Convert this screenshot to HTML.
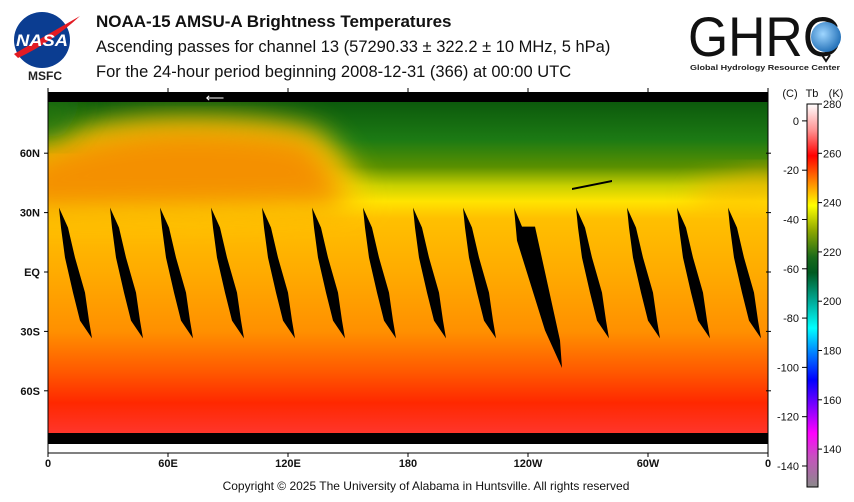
<!DOCTYPE html>
<html><head><meta charset="utf-8"><style>
body{margin:0;background:#fff;width:854px;height:502px;overflow:hidden;font-family:"Liberation Sans",sans-serif}
svg{display:block}
</style></head><body>
<svg id="chart" width="854" height="502" xmlns="http://www.w3.org/2000/svg">
<defs>
 <linearGradient id="base" x1="0" y1="102" x2="0" y2="444" gradientUnits="userSpaceOnUse">
  <stop offset="0" stop-color="#0c5a0c"/>
  <stop offset="0.11" stop-color="#1c7a14"/>
  <stop offset="0.19" stop-color="#5a9000"/>
  <stop offset="0.245" stop-color="#c8d000"/>
  <stop offset="0.29" stop-color="#ffe400"/>
  <stop offset="0.34" stop-color="#ffc000"/>
  <stop offset="0.5" stop-color="#ffab00"/>
  <stop offset="0.67" stop-color="#ff9000"/>
  <stop offset="0.79" stop-color="#ff5800"/>
  <stop offset="0.88" stop-color="#ff2800"/>
  <stop offset="1" stop-color="#ff3a3a"/>
 </linearGradient>
 <linearGradient id="cbar" x1="0" y1="104" x2="0" y2="487" gradientUnits="userSpaceOnUse">
  <stop offset="0" stop-color="#ffffff"/>
  <stop offset="0.07" stop-color="#ff9090"/>
  <stop offset="0.135" stop-color="#ff0000"/>
  <stop offset="0.2" stop-color="#ff8000"/>
  <stop offset="0.265" stop-color="#ffff00"/>
  <stop offset="0.33" stop-color="#90a800"/>
  <stop offset="0.4" stop-color="#1a6a1a"/>
  <stop offset="0.44" stop-color="#005a20"/>
  <stop offset="0.52" stop-color="#00b0a0"/>
  <stop offset="0.585" stop-color="#00ffff"/>
  <stop offset="0.65" stop-color="#0080ff"/>
  <stop offset="0.72" stop-color="#0000ff"/>
  <stop offset="0.79" stop-color="#8000ff"/>
  <stop offset="0.86" stop-color="#ff00ff"/>
  <stop offset="0.92" stop-color="#c850c0"/>
  <stop offset="1" stop-color="#8a8a8a"/>
 </linearGradient>
 <filter id="blur" x="-30%" y="-30%" width="160%" height="160%"><feGaussianBlur stdDeviation="14"/></filter>
 <clipPath id="mapclip"><rect x="48" y="102" width="720" height="331"/></clipPath>
 <radialGradient id="globe" cx="0.4" cy="0.4" r="0.7"><stop offset="0" stop-color="#9fd6ff"/><stop offset="1" stop-color="#1565b0"/></radialGradient>
</defs>

<g>
 <circle cx="42" cy="40" r="28" fill="#0b3d91"/>
 <path d="M14 54 Q45 36 80 16 Q52 42 18 58Z" fill="#e21b23"/>
 <text x="42" y="46" font-size="17" font-weight="bold" fill="#fff" text-anchor="middle" font-style="italic" textLength="52" lengthAdjust="spacingAndGlyphs">NASA</text>
 <text x="45" y="80" font-size="12" font-weight="bold" fill="#222" text-anchor="middle">MSFC</text>
</g>
<text x="96" y="27" font-size="17" font-weight="bold" fill="#111">NOAA-15 AMSU-A Brightness Temperatures</text>
<text x="96" y="52" font-size="16.5" fill="#111">Ascending passes for channel 13 (57290.33 ± 322.2 ± 10 MHz, 5 hPa)</text>
<text x="96" y="77" font-size="16.5" fill="#111">For the 24-hour period beginning 2008-12-31 (366) at 00:00 UTC</text>
<g>
 <text x="688" y="56" font-size="56" fill="#111" textLength="152" lengthAdjust="spacingAndGlyphs">GHRC</text>
 <circle cx="826" cy="37" r="15" fill="url(#globe)"/>
 <path d="M822 55 L826 61 L830 55" fill="none" stroke="#111" stroke-width="2"/>
 <text x="690" y="70" font-size="7.5" font-weight="bold" fill="#222" textLength="150" lengthAdjust="spacingAndGlyphs">Global Hydrology Resource Center</text>
</g>

<rect x="48" y="92" width="720" height="10" fill="#000"/>
<rect x="48" y="433" width="720" height="11" fill="#000"/>
<text x="215" y="102" font-size="13" fill="#fff" text-anchor="middle">⟵</text>
<g clip-path="url(#mapclip)">
 <rect x="48" y="102" width="720" height="331" fill="url(#base)"/>
 <path d="M20 215 L20 150 Q80 120 170 118 Q270 116 320 132 Q350 160 370 205 L200 215Z" fill="#ffd400" filter="url(#blur)" opacity="0.9"/>
 <path d="M20 210 L20 165 Q90 132 180 130 Q270 130 310 142 Q335 170 345 205Z" fill="#f49000" filter="url(#blur)"/>
 <path d="M20 130 L20 95 L90 95 L60 140Z" fill="#2a7a10" filter="url(#blur)" opacity="0.7"/>
 <path d="M690 190 L780 170 L780 200 L700 205Z" fill="#ffb000" filter="url(#blur)" opacity="0.8"/>
 <path d="M572 188 L612 180 L612 182 L572 190Z" fill="#000"/>
 <g id="swaths"></g>
</g>
<g id="axes"></g>

<rect x="807" y="104" width="11" height="383" fill="url(#cbar)" stroke="#000" stroke-width="1"/>
<text x="790" y="97" font-size="11" fill="#111" text-anchor="middle">(C)</text>
<text x="812" y="97" font-size="11" fill="#111" text-anchor="middle">Tb</text>
<text x="836" y="97" font-size="11" fill="#111" text-anchor="middle">(K)</text>
<g id="cbticks"></g>

<text x="426" y="490" font-size="12" fill="#111" text-anchor="middle">Copyright © 2025 The University of Alabama in Huntsville.  All rights reserved</text>
</svg>
<script>
const latTicks=[60,30,0,-30,-60];
const latLabels=["60N","30N","EQ","30S","60S"];
const lonTicks=[0,60,120,180,240,300,360];
const lonLabels=["0","60E","120E","180","120W","60W","0"];
const swathLons=[5.5,31,56,81.5,107,132,157.5,182.5,207.5,233,264,289.5,314.5,340];
const wideSwathLon=233;
const kTicks=[280,260,240,220,200,180,160,140];
const cTicks=[0,-20,-40,-60,-80,-100,-120,-140];

const NS="http://www.w3.org/2000/svg";
const xS=lon=>48+lon*2;
const yS=lat=>272-lat*1.98;
const kS=k=>104+(280-k)*2.465;
function mk(tag,attrs,parent,text){const e=document.createElementNS(NS,tag);for(const k in attrs)e.setAttribute(k,attrs[k]);if(text!==undefined)e.textContent=text;parent.appendChild(e);return e;}

const sw=document.getElementById('swaths');
swathLons.forEach((lon,i)=>{
  const x=xS(lon),t=yS(32.5),b=yS(-33.5);
  let pts;
  if(lon===wideSwathLon){
    pts=[[x,t],[x+8,t+19],[x+21,t+19],[x+46,b+2],[x+48,yS(-48.5)],[x+31,b-8],[x+3,t+33]];
  } else {
    pts=[[x,t],[x+9,t+20],[x+16,t+50],[x+26,t+85],[x+30,t+113],[x+33,b],[x+21,t+113],[x+14,t+85],[x+6,t+50],[x+2,t+20]];
  }
  const p=mk('polygon',{points:pts.map(q=>q.join(',')).join(' '),fill:'#000'},sw);
  
  
});

const ax=document.getElementById('axes');
mk('line',{x1:48,y1:453,x2:768,y2:453,stroke:'#000','stroke-width':1},ax);
mk('line',{x1:48,y1:92,x2:48,y2:453,stroke:'#000','stroke-width':1},ax);
mk('line',{x1:768,y1:92,x2:768,y2:453,stroke:'#000','stroke-width':1},ax);
latTicks.forEach((lat,i)=>{
  const y=yS(lat);
  mk('line',{x1:44,y1:y,x2:48,y2:y,stroke:'#000'},ax);
  mk('line',{x1:766,y1:y,x2:771,y2:y,stroke:'#000'},ax);
  const t=mk('text',{x:40,y:y+4,'font-size':11,'font-weight':'bold','text-anchor':'end',fill:'#111'},ax,latLabels[i]);
  
  
});
lonTicks.forEach((lon,i)=>{
  const x=xS(lon);
  mk('line',{x1:x,y1:453,x2:x,y2:457,stroke:'#000'},ax);
  mk('line',{x1:x,y1:88,x2:x,y2:92,stroke:'#000'},ax);
  const t=mk('text',{x:x,y:467,'font-size':11,'font-weight':'bold','text-anchor':'middle',fill:'#111'},ax,lonLabels[i]);
  
  
});

const cb=document.getElementById('cbticks');
kTicks.forEach(k=>{
  const y=kS(k);
  mk('line',{x1:818,y1:y,x2:822,y2:y,stroke:'#000'},cb);
  const t=mk('text',{x:823,y:y+4,'font-size':11,fill:'#111'},cb,String(k));
  
  
});
cTicks.forEach(c=>{
  const y=kS(c+273.15);
  mk('line',{x1:802,y1:y,x2:807,y2:y,stroke:'#000'},cb);
  const t=mk('text',{x:799,y:y+4,'font-size':11,fill:'#111','text-anchor':'end'},cb,String(c));
  
  
});
</script>
</body></html>
